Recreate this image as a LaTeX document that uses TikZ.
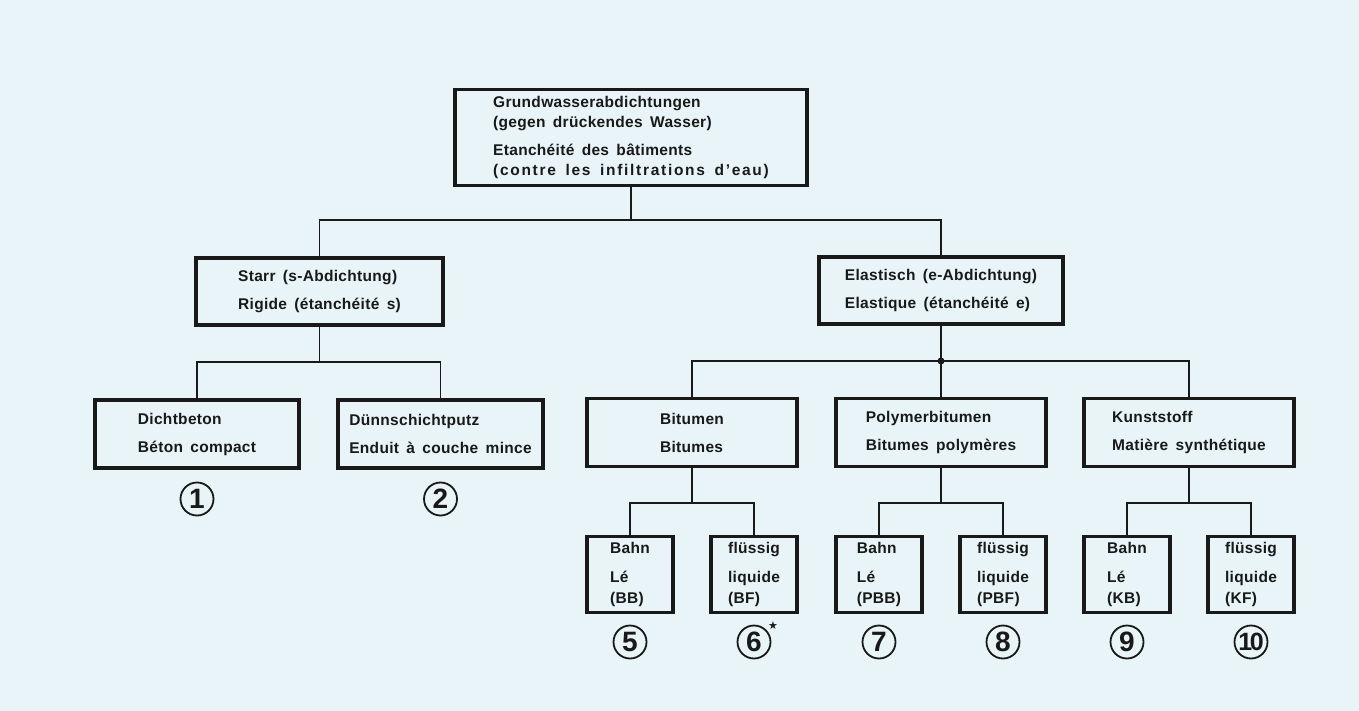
\documentclass[tikz,border=0pt]{standalone}
\usepackage{fontspec}
\setmainfont{Liberation Sans}[WordSpace=1.6, LetterSpace=2]
\newfontfamily\starfont{DejaVu Sans}
\definecolor{paper}{RGB}{232,244,247}
\definecolor{ink}{RGB}{25,25,25}

\tikzset{
  box/.style={draw=ink, line width=3.5pt, align=left, text=ink, inner sep=0pt,
    font=\fontsize{15.5}{20}\selectfont\bfseries},
  midbox/.style={box, minimum width=210pt, minimum height=68pt},
  smallbox/.style={box, minimum width=86pt, minimum height=76pt},
  num/.style={draw=ink, circle, line width=1.8pt, minimum size=33pt, inner sep=0pt,
    text=ink, font=\fontsize{28}{28}\selectfont\bfseries},
  link/.style={draw=ink, line width=1.3pt},
}

\begin{document}
\begin{tikzpicture}[x=1pt, y=-1pt]

  \fill[paper] (0,0) rectangle (1359,711);
  \useasboundingbox (0,0) rectangle (1359,711);

  \node[box, minimum width=352pt, minimum height=96pt] (wall) at (631,137.5)
    {Grundwasserabdichtungen\\(gegen drückendes Wasser)\\[8pt]Etanchéité des bâtiments\\
     {\addfontfeature{LetterSpace=11}(contre les infiltrations d'eau)}};

  \node[box, minimum width=247pt, minimum height=67pt] (rigid) at (319.5,291.5) {Starr (s-Abdichtung)\\[8pt]Rigide (étanchéité s)};
  \node[box, minimum width=244pt, minimum height=67pt] (elastic) at (941,290.5) {Elastisch (e-Abdichtung)\\[8pt]Elastique (étanchéité e)};

  \coordinate (fork) at (wall.south |- 0,220);
  \draw[link] (wall.south) -- (fork);
  \draw[link] (rigid.north) |- (fork) -| (elastic.north);

  \node[midbox, minimum width=204pt] (dense) at (197,434) {Dichtbeton\\[8pt]Béton compact};
  \node[midbox, minimum width=205pt] (plaster) at (440.5,434) {Dünnschichtputz\\[8pt]Enduit à couche mince};

  \coordinate (forkrigid) at (rigid.south |- 0,362);
  \draw[link] (rigid.south) -- (forkrigid);
  \draw[link] (dense.north) |- (forkrigid) -| (plaster.north);

  \node[midbox] (bitumen) at (692,432.5) {Bitumen\\[8pt]Bitumes};
  \node[midbox] (polymer) at (941,432.5) {Polymerbitumen\\[8pt]Bitumes polymères};
  \node[midbox] (synthetic) at (1189,432.5) {Kunststoff\\[8pt]Matière synthétique};

  \coordinate (forkelastic) at (elastic.south |- 0,361);
  \draw[link] (elastic.south) -- (forkelastic);
  \draw[link] (bitumen.north) |- (forkelastic) -| (synthetic.north);
  \draw[link] (forkelastic) -- (polymer.north);
  \fill[ink] (forkelastic) circle[radius=3.5pt];

  \node[smallbox] (bb) at (630,574.5) {Bahn\\[9pt]Lé\\[1pt](BB)};
  \node[smallbox] (bf) at (754,574.5) {flüssig\\[9pt]liquide\\[1pt](BF)};
  \node[smallbox] (pbb) at (879,574.5) {Bahn\\[9pt]Lé\\[1pt](PBB)};
  \node[smallbox] (pbf) at (1003,574.5) {flüssig\\[9pt]liquide\\[1pt](PBF)};
  \node[smallbox] (kb) at (1127,574.5) {Bahn\\[9pt]Lé\\[1pt](KB)};
  \node[smallbox] (kf) at (1251,574.5) {flüssig\\[9pt]liquide\\[1pt](KF)};

  \coordinate (forkbit) at (bitumen.south |- 0,503);
  \draw[link] (bitumen.south) -- (forkbit);
  \draw[link] (bb.north) |- (forkbit) -| (bf.north);

  \coordinate (forkpoly) at (polymer.south |- 0,503);
  \draw[link] (polymer.south) -- (forkpoly);
  \draw[link] (pbb.north) |- (forkpoly) -| (pbf.north);

  \coordinate (forksynth) at (synthetic.south |- 0,503);
  \draw[link] (synthetic.south) -- (forksynth);
  \draw[link] (kb.north) |- (forksynth) -| (kf.north);

  \node[num] (n1) at (197,499) {1};
  \node[num] (n2) at (440.5,499) {2};
  \node[num] (n5) at (630,642) {5};
  \node[num] (n6) at (754,642) {6};
  \node[num] (n7) at (879,642) {7};
  \node[num] (n8) at (1003,642) {8};
  \node[num] (n9) at (1127,642) {9};
  \node[num] (n10) at (1251,642) {\fontsize{25}{25}\selectfont1\kern-2.5pt0};
  \node[text=ink, font=\starfont\fontsize{11}{11}\selectfont] (star) at (773,626) {★};

\end{tikzpicture}
\end{document}
